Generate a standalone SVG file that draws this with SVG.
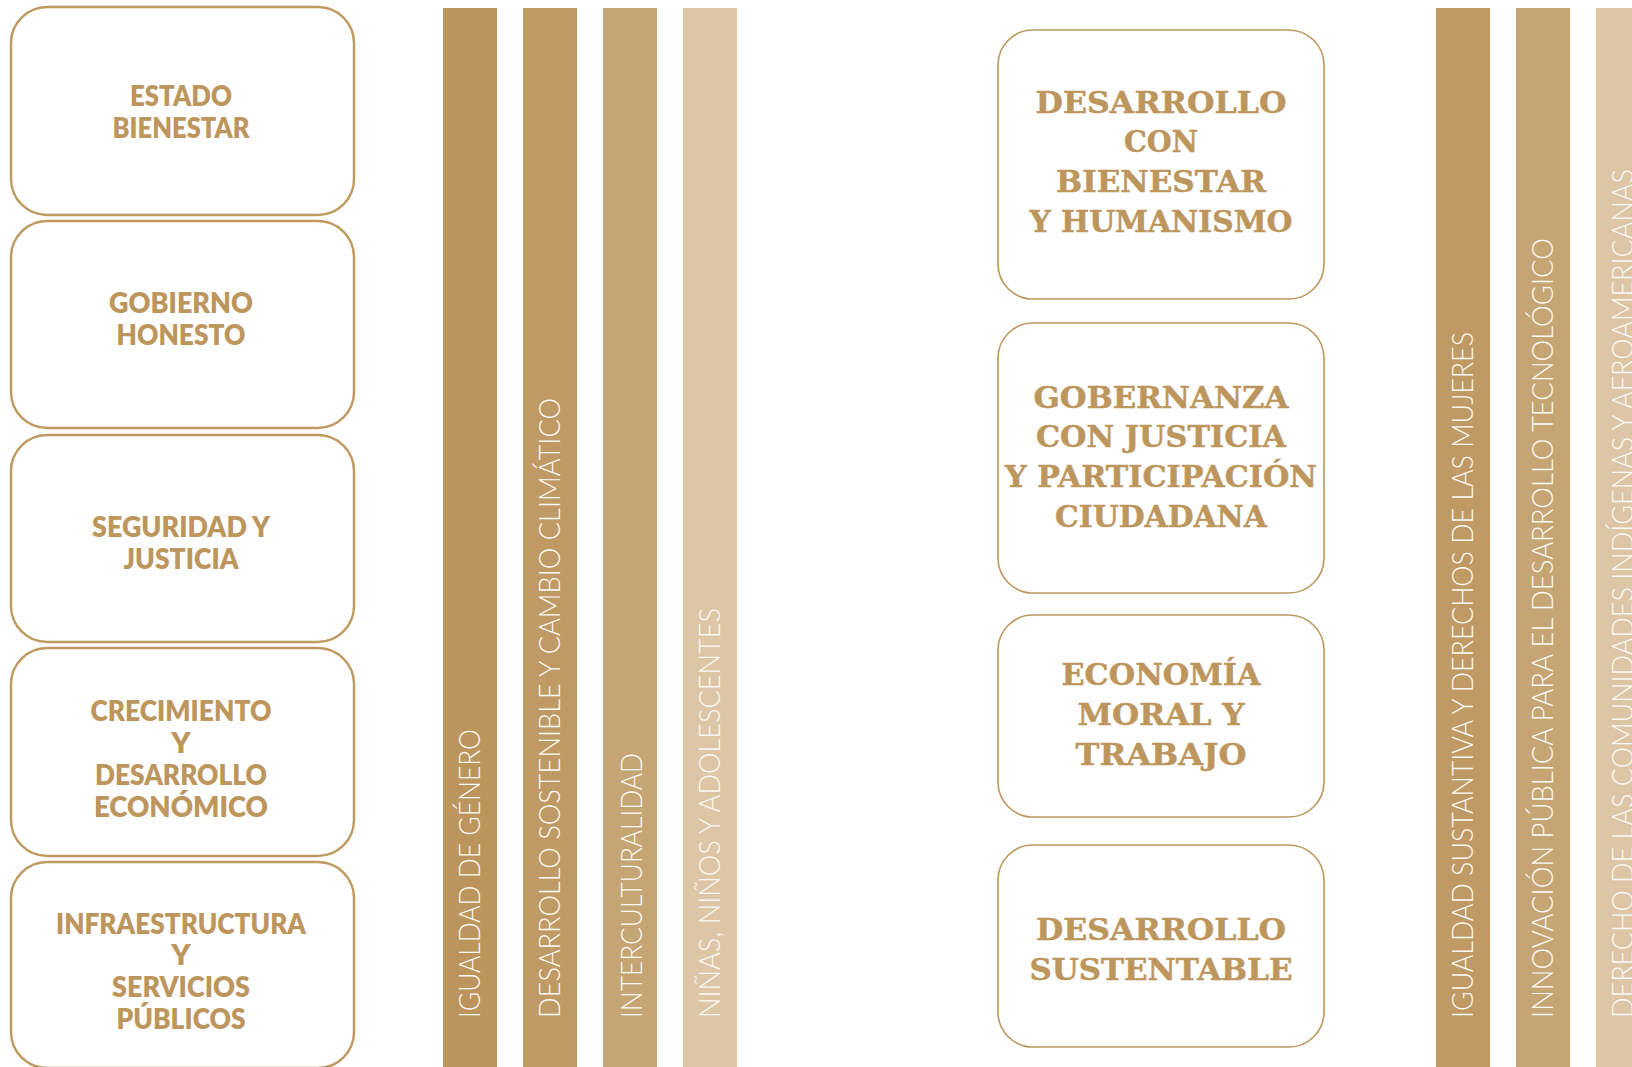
<svg xmlns="http://www.w3.org/2000/svg" width="1632" height="1067" viewBox="0 0 1632 1067">
<style>
.lbox{fill:#FFFFFF;stroke:#BF9A60;stroke-width:2.4}
.mbox{fill:#FFFFFF;stroke:#BF9A60;stroke-width:1.7}
.lt{font-family:Lato,"Open Sans","Liberation Sans",sans-serif;font-weight:800;font-size:29px;fill:#BD965D;text-anchor:middle}
.mt{font-family:"DejaVu Serif","Liberation Serif",serif;font-weight:700;font-size:30px;fill:#BD965D;stroke:#BD965D;stroke-width:0.5;text-anchor:middle}
.bt{font-family:Lato,"Open Sans","Liberation Sans",sans-serif;font-weight:300;font-size:30px;fill:#FBF8F3}
.c1{fill:#BC955C}.c2{fill:#BF9A64}.c3{fill:#C5A573}.c4{fill:#DCC6A5}
</style>
<rect width="1632" height="1067" fill="#FFFFFF"/>

<g id="eje-estado-bienestar">
<rect class="lbox" x="11" y="7" width="343" height="208" rx="36"/>
<text class="lt" x="181" y="106" textLength="102" lengthAdjust="spacingAndGlyphs">ESTADO</text>
<text class="lt" x="181" y="138" textLength="137" lengthAdjust="spacingAndGlyphs">BIENESTAR</text>
</g>
<g id="eje-gobierno-honesto">
<rect class="lbox" x="11" y="221" width="343" height="207" rx="36"/>
<text class="lt" x="181" y="313" textLength="144" lengthAdjust="spacingAndGlyphs">GOBIERNO</text>
<text class="lt" x="181" y="345" textLength="129" lengthAdjust="spacingAndGlyphs">HONESTO</text>
</g>
<g id="eje-seguridad-justicia">
<rect class="lbox" x="11" y="435" width="343" height="207" rx="36"/>
<text class="lt" x="181" y="537" textLength="178" lengthAdjust="spacingAndGlyphs">SEGURIDAD Y</text>
<text class="lt" x="181" y="569" textLength="115" lengthAdjust="spacingAndGlyphs">JUSTICIA</text>
</g>
<g id="eje-crecimiento">
<rect class="lbox" x="11" y="648" width="343" height="208" rx="36"/>
<text class="lt" x="181" y="721" textLength="181" lengthAdjust="spacingAndGlyphs">CRECIMIENTO</text>
<text class="lt" x="181" y="753">Y</text>
<text class="lt" x="181" y="785" textLength="172" lengthAdjust="spacingAndGlyphs">DESARROLLO</text>
<text class="lt" x="181" y="817" textLength="174" lengthAdjust="spacingAndGlyphs">ECONÓMICO</text>
</g>
<g id="eje-infraestructura">
<rect class="lbox" x="11" y="862" width="343" height="206" rx="36"/>
<text class="lt" x="181" y="934" textLength="250" lengthAdjust="spacingAndGlyphs">INFRAESTRUCTURA</text>
<text class="lt" x="181" y="965">Y</text>
<text class="lt" x="181" y="997" textLength="138" lengthAdjust="spacingAndGlyphs">SERVICIOS</text>
<text class="lt" x="181" y="1029" textLength="129" lengthAdjust="spacingAndGlyphs">PÚBLICOS</text>
</g>

<g id="transversal-igualdad-genero">
<rect class="c1" x="443" y="8" width="54" height="1059"/>
<text class="bt" transform="translate(480,1018) rotate(-90)" textLength="289" lengthAdjust="spacingAndGlyphs">IGUALDAD DE GÉNERO</text>
</g>
<g id="transversal-desarrollo-sostenible">
<rect class="c2" x="523" y="8" width="54" height="1059"/>
<text class="bt" transform="translate(560,1018) rotate(-90)" textLength="620" lengthAdjust="spacingAndGlyphs">DESARROLLO SOSTENIBLE Y CAMBIO CLIMÁTICO</text>
</g>
<g id="transversal-interculturalidad">
<rect class="c3" x="603" y="8" width="54" height="1059"/>
<text class="bt" transform="translate(642,1018) rotate(-90)" textLength="265" lengthAdjust="spacingAndGlyphs">INTERCULTURALIDAD</text>
</g>
<g id="transversal-ninas-ninos">
<rect class="c4" x="683" y="8" width="54" height="1059"/>
<text class="bt" transform="translate(720,1018) rotate(-90)" textLength="410" lengthAdjust="spacingAndGlyphs">NIÑAS, NIÑOS Y ADOLESCENTES</text>
</g>

<g id="eje-desarrollo-bienestar">
<rect class="mbox" x="998" y="30" width="326" height="269" rx="35"/>
<text class="mt" x="1161" y="113" textLength="251" lengthAdjust="spacingAndGlyphs">DESARROLLO</text>
<text class="mt" x="1161" y="152" textLength="74" lengthAdjust="spacingAndGlyphs">CON</text>
<text class="mt" x="1161" y="192" textLength="210" lengthAdjust="spacingAndGlyphs">BIENESTAR</text>
<text class="mt" x="1161" y="232" textLength="263" lengthAdjust="spacingAndGlyphs">Y HUMANISMO</text>
</g>
<g id="eje-gobernanza">
<rect class="mbox" x="998" y="323" width="326" height="270" rx="35"/>
<text class="mt" x="1161" y="408" textLength="255" lengthAdjust="spacingAndGlyphs">GOBERNANZA</text>
<text class="mt" x="1161" y="447" textLength="250" lengthAdjust="spacingAndGlyphs">CON JUSTICIA</text>
<text class="mt" x="1161" y="487" textLength="312" lengthAdjust="spacingAndGlyphs">Y PARTICIPACIÓN</text>
<text class="mt" x="1161" y="527" textLength="212" lengthAdjust="spacingAndGlyphs">CIUDADANA</text>
</g>
<g id="eje-economia-moral">
<rect class="mbox" x="998" y="615" width="326" height="202" rx="35"/>
<text class="mt" x="1161" y="685" textLength="199" lengthAdjust="spacingAndGlyphs">ECONOMÍA</text>
<text class="mt" x="1161" y="725" textLength="167" lengthAdjust="spacingAndGlyphs">MORAL Y</text>
<text class="mt" x="1161" y="765" textLength="171" lengthAdjust="spacingAndGlyphs">TRABAJO</text>
</g>
<g id="eje-desarrollo-sustentable">
<rect class="mbox" x="998" y="845" width="326" height="202" rx="35"/>
<text class="mt" x="1161" y="940" textLength="250" lengthAdjust="spacingAndGlyphs">DESARROLLO</text>
<text class="mt" x="1161" y="980" textLength="263" lengthAdjust="spacingAndGlyphs">SUSTENTABLE</text>
</g>

<g id="transversal-igualdad-sustantiva">
<rect class="c2" x="1436" y="8" width="54" height="1059"/>
<text class="bt" transform="translate(1473,1018) rotate(-90)" textLength="686" lengthAdjust="spacingAndGlyphs">IGUALDAD SUSTANTIVA Y DERECHOS DE LAS MUJERES</text>
</g>
<g id="transversal-innovacion">
<rect class="c3" x="1516" y="8" width="54" height="1059"/>
<text class="bt" transform="translate(1553,1018) rotate(-90)" textLength="780" lengthAdjust="spacingAndGlyphs">INNOVACIÓN PÚBLICA PARA EL DESARROLLO TECNOLÓGICO</text>
</g>
<g id="transversal-comunidades">
<rect class="c4" x="1596" y="8" width="54" height="1059"/>
<text class="bt" transform="translate(1633,1018) rotate(-90)" textLength="849" lengthAdjust="spacingAndGlyphs">DERECHO DE LAS COMUNIDADES INDÍGENAS Y AFROAMERICANAS</text>
</g>

<g id="connectors"/>
</svg>
